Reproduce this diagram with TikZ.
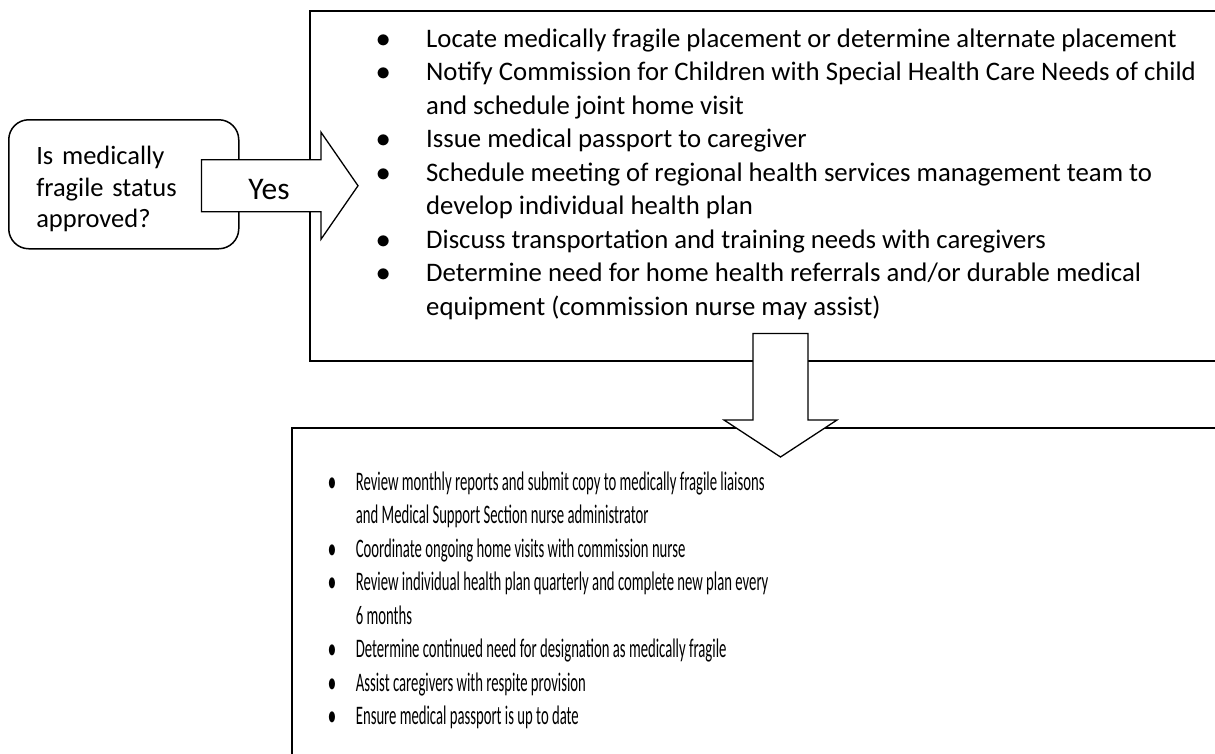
\documentclass[tikz,border=0pt]{standalone}
\usepackage{fontspec}
\setmainfont{Carlito}
\usepackage{array}
\usetikzlibrary{calc}

\tikzset{
  box/.style={draw, line width=1.5pt, fill=white, inner sep=0pt},
  blockarrow/.style={draw, fill=white, line width=1.3pt, line join=miter},
  list/.style={anchor=base west, inner sep=0pt, font=\fontsize{26.75}{33.5}\selectfont},
}
\newcommand{\bul}{\scalebox{1.15}{$\bullet$}}

\begin{document}
\begin{tikzpicture}[x=1pt,y=-1pt]
\useasboundingbox (0,0) rectangle (1215,753);
\clip (0,0) rectangle (1215,753);
% boxes
\node[box, rounded corners=20pt, minimum width=230pt, minimum height=129pt, anchor=north west,
      text width=175pt, inner xsep=27.5pt, align=left, font=\fontsize{26.5}{31.5}\selectfont]
      (ask) at (8,119) {\rule{0pt}{28pt}Is medically\\fragile status\\approved?};
\node[box, minimum width=940pt, minimum height=350pt, anchor=north west] (plan) at (309,10) {};
\node[box, minimum width=960pt, minimum height=400pt, anchor=north west] (review) at (291,427) {};
% lists
\node[list] (planList) at (383,47) {\begin{tabular}[t]{@{}w{c}{0pt}@{\hspace{43pt}}l@{}}
  \bul & Locate medically fragile placement or determine alternate placement\\
  \bul & Notify Commission for Children with Special Health Care Needs of child\\
       & and schedule joint home visit\\
  \bul & Issue medical passport to caregiver\\
  \bul & Schedule meeting of regional health services management team to\\
       & develop individual health plan\\
  \bul & Discuss transportation and training needs with caregivers\\
  \bul & Determine need for home health referrals and/or durable medical\\
       & equipment (commission nurse may assist)
\end{tabular}};
\node[list] (reviewList) at (332,490) {\scalebox{0.55}[1]{\begin{tabular}[t]{@{}w{c}{0pt}@{\hspace{43pt}}l@{}}
  \bul & Review monthly reports and submit copy to medically fragile liaisons\\
       & and Medical Support Section nurse administrator\\
  \bul & Coordinate ongoing home visits with commission nurse\\
  \bul & Review individual health plan quarterly and complete new plan every\\
       & 6 months\\
  \bul & Determine continued need for designation as medically fragile\\
  \bul & Assist caregivers with respite provision\\
  \bul & Ensure medical passport is up to date
\end{tabular}}};
% block arrows
\coordinate (yesTail) at ($(ask.east |- plan.west)+(-38,0)$);
\coordinate (yesTip) at ($(plan.west)+(49,0)$);
\filldraw[blockarrow] ($(yesTail)+(0,-26)$) -- ($(yesTip)+(-37,-26)$) -- ($(yesTip)+(-37,-53.5)$)
  -- (yesTip) -- ($(yesTip)+(-37,53.5)$) -- ($(yesTip)+(-37,26)$) -- ($(yesTail)+(0,26)$) -- cycle;
\node[anchor=base, inner sep=0pt, font=\fontsize{31.5}{36}\selectfont] (yes) at (269,199) {Yes};
\coordinate (dnTail) at ($(plan.south west)+(471.5,-28)$);
\coordinate (dnTip) at ($(dnTail |- review.north)+(0,30)$);
\filldraw[blockarrow] ($(dnTail)+(-27.5,0)$) -- ($(dnTip)+(-27.5,-37)$) -- ($(dnTip)+(-56.5,-37)$)
  -- (dnTip) -- ($(dnTip)+(56.5,-37)$) -- ($(dnTip)+(27.5,-37)$) -- ($(dnTail)+(27.5,0)$) -- cycle;
\end{tikzpicture}
\end{document}
